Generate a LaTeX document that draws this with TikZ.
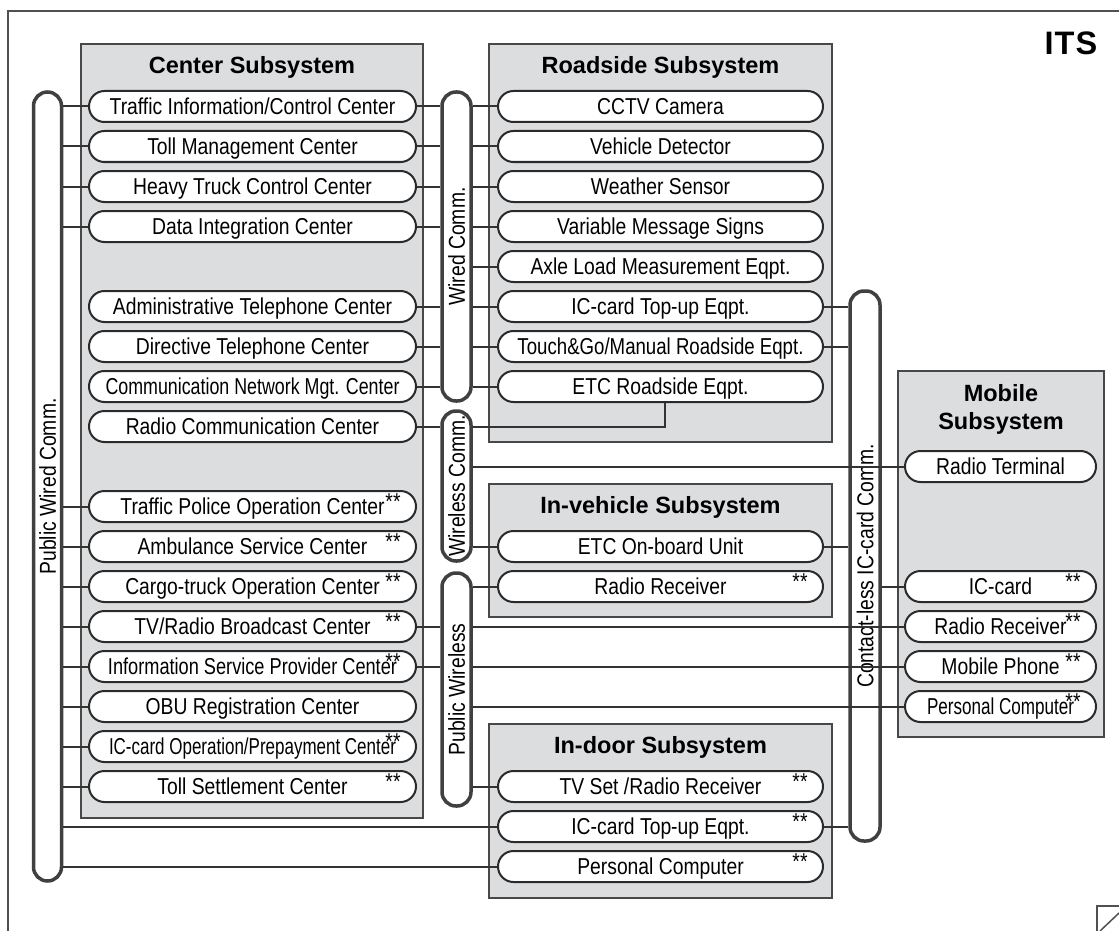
\documentclass[tikz,border=0pt]{standalone}
\usepackage{fontspec}
\usepackage{graphicx}
\setmainfont{Liberation Sans}
\newfontfamily\narrowf[FakeStretch=0.84]{Liberation Sans}

% squeeze a label horizontally when it is wider than the given width
\newsavebox\fitbox
\newcommand\fitto[2]{\sbox\fitbox{#2}\ifdim\wd\fitbox>#1\relax\resizebox{#1}{\height}{\usebox\fitbox}\else\usebox\fitbox\fi}

\definecolor{boxfill}{HTML}{DCDDDF}
\definecolor{boxc}{HTML}{484848}
\definecolor{pillc}{HTML}{2A2A2A}
\definecolor{busc}{HTML}{404040}
\definecolor{wirec}{HTML}{333333}
\definecolor{framec}{HTML}{505050}

\tikzset{
  subbox/.style={draw=boxc, line width=2pt, fill=boxfill, inner sep=0pt},
  ttl/.style={font=\bfseries\fontsize{23.5}{28}\selectfont, inner sep=0pt, text height=16.8pt, text depth=0pt},
  pill/.style={draw=pillc, line width=2pt, fill=white, rounded corners=15.5pt, minimum height=31pt,
               inner sep=0pt, text height=16.6pt, text depth=0pt, font=\narrowf\fontsize{23}{27}\selectfont},
  cpill/.style={pill, minimum width=327pt},
  rpill/.style={pill, minimum width=325pt},
  mpill/.style={pill, minimum width=191pt},
  bus/.style={draw=busc, line width=3.5pt, fill=white, rounded corners=14pt, minimum width=28pt,
              inner sep=0pt, font=\narrowf\fontsize{23}{27}\selectfont},
  wire/.style={draw=wirec, line width=2pt},
  astk/.style={font=\narrowf\fontsize{23}{27}\selectfont, inner sep=0pt, anchor=base},
}

% the "**" mark near the right end of an element
\newcommand\starmark[1]{\node[astk] (#1s) at ([xshift=-24pt,yshift=-3pt]#1.east) {**};}
\newcommand\vlabel[1]{\rotatebox{90}{\raisebox{0pt}[16.6pt][0pt]{#1}}}

\begin{document}
\begin{tikzpicture}[x=1pt,y=-1pt]
\useasboundingbox (0,0) rectangle (1119,931);

% outer frame and corner fragment
\draw[framec, line width=1.5pt] (8,931) -- (8,11) -- (1119,11);
\draw[framec, line width=1.5pt] (1097,931) -- (1097,906) -- (1119,906);
\draw[framec, line width=1.5pt] (1100,931) -- (1119,913);

\node[font=\bfseries\fontsize{32.5}{36}\selectfont, inner sep=0pt, text height=23.3pt, text depth=0pt]
  (its) at (1071,43.3) {I\kern1pt T\kern1pt S};

% subsystem boxes
\node[subbox, minimum width=342pt, minimum height=774pt] (csub) at (252,431) {};
\node[subbox, minimum width=343pt, minimum height=398pt] (rsub) at (660.5,243) {};
\node[subbox, minimum width=343pt, minimum height=133pt] (vsub) at (660.5,550.5) {};
\node[subbox, minimum width=343pt, minimum height=174pt] (dsub) at (660.5,811) {};
\node[subbox, minimum width=206pt, minimum height=366pt] (msub) at (1001,554) {};

\node[ttl] (csubt) at (252,65) {Center Subsystem};
\node[ttl] (rsubt) at (660.5,65) {Roadside Subsystem};
\node[ttl] (vsubt) at (660.5,505) {In-vehicle Subsystem};
\node[ttl] (dsubt) at (660.5,745) {In-door Subsystem};
\node[ttl] (msubt1) at (1001,393) {Mobile};
\node[ttl] (msubt2) at (1001,421) {Subsystem};

% center subsystem
\node[cpill] (c0)  at (252.5,106.5) {\fitto{290pt}{Traffic Information/Control Center}};
\node[cpill] (c1)  at (252.5,146.5) {\fitto{290pt}{Toll Management Center}};
\node[cpill] (c2)  at (252.5,186.5) {\fitto{290pt}{Heavy Truck Control Center}};
\node[cpill] (c3)  at (252.5,226.5) {\fitto{290pt}{Data Integration Center}};
\node[cpill] (c5)  at (252.5,306.5) {\fitto{290pt}{Administrative Telephone Center}};
\node[cpill] (c6)  at (252.5,346.5) {\fitto{290pt}{Directive Telephone Center}};
\node[cpill] (c7)  at (252.5,386.5) {\fitto{294pt}{Communication Network Mgt. Center}};
\node[cpill] (c8)  at (252.5,426.5) {\fitto{290pt}{Radio Communication Center}};
\node[cpill] (c10) at (252.5,506.5) {\fitto{290pt}{Traffic Police Operation Center}};
\node[cpill] (c11) at (252.5,546.5) {\fitto{290pt}{Ambulance Service Center}};
\node[cpill] (c12) at (252.5,586.5) {\fitto{290pt}{Cargo-truck Operation Center}};
\node[cpill] (c13) at (252.5,626.5) {\fitto{290pt}{TV/Radio Broadcast Center}};
\node[cpill] (c14) at (252.5,666.5) {\fitto{289pt}{Information Service Provider Center}};
\node[cpill] (c15) at (252.5,706.5) {\fitto{290pt}{OBU Registration Center}};
\node[cpill] (c16) at (252.5,746.5) {\fitto{287pt}{IC-card Operation/Prepayment Center}};
\node[cpill] (c17) at (252.5,786.5) {\fitto{290pt}{Toll Settlement Center}};
\starmark{c10}\starmark{c11}\starmark{c12}\starmark{c13}\starmark{c14}\starmark{c16}\starmark{c17}

% roadside subsystem
\node[rpill] (r0) at (660.5,106.5) {\fitto{290pt}{CCTV Camera}};
\node[rpill] (r1) at (660.5,146.5) {\fitto{290pt}{Vehicle Detector}};
\node[rpill] (r2) at (660.5,186.5) {\fitto{290pt}{Weather Sensor}};
\node[rpill] (r3) at (660.5,226.5) {\fitto{290pt}{Variable Message Signs}};
\node[rpill] (r4) at (660.5,266.5) {\fitto{290pt}{Axle Load Measurement Eqpt.}};
\node[rpill] (r5) at (660.5,306.5) {\fitto{290pt}{IC-card Top-up Eqpt.}};
\node[rpill] (r6) at (660.5,346.5) {\fitto{286pt}{Touch\&Go/Manual Roadside Eqpt.}};
\node[rpill] (r7) at (660.5,386.5) {\fitto{290pt}{ETC Roadside Eqpt.}};

% in-vehicle subsystem
\node[rpill] (v1) at (660.5,546.5) {ETC On-board Unit};
\node[rpill] (v2) at (660.5,586.5) {Radio Receiver};
\starmark{v2}

% in-door subsystem
\node[rpill] (d1) at (660.5,786.5) {TV Set /Radio Receiver};
\node[rpill] (d2) at (660.5,826.5) {IC-card Top-up Eqpt.};
\node[rpill] (d3) at (660.5,866.5) {Personal Computer};
\starmark{d1}\starmark{d2}\starmark{d3}

% mobile subsystem
\node[mpill] (m1) at (1000.5,466.5) {\fitto{180pt}{Radio Terminal}};
\node[mpill] (m2) at (1000.5,586.5) {\fitto{180pt}{IC-card}};
\node[mpill] (m3) at (1000.5,626.5) {\fitto{180pt}{Radio Receiver}};
\node[mpill] (m4) at (1000.5,666.5) {\fitto{180pt}{Mobile Phone}};
\node[mpill] (m5) at (1000.5,706.5) {\fitto{147pt}{Personal Computer}};
\starmark{m2}\starmark{m3}\starmark{m4}\starmark{m5}

% communication media
\node[bus, minimum height=789pt] (pwc) at (47.5,486.5) {\vlabel{Public Wired Comm.}};
\node[bus, minimum width=29pt, minimum height=309pt] (wc) at (456.5,246.5) {\vlabel{Wired Comm.}};
\node[bus, minimum width=29pt, minimum height=150pt] (wl) at (456.5,486) {\vlabel{Wireless Comm.}};
\node[bus, minimum width=29pt, minimum height=233pt] (pwl) at (456.5,689.5) {\vlabel{Public Wireless}};
\node[bus, minimum width=30pt, minimum height=550pt] (cl) at (865,566) {\vlabel{Contact-less IC-card Comm.}};

% public wired links
\foreach \n in {c0,c1,c2,c3,c10,c11,c12,c13,c14,c15,c16,c17,d2,d3}
  \draw[wire] (pwc.east |- \n.west) -- (\n.west);

% wired links
\foreach \n in {c0,c1,c2,c3,c5,c6,c7}
  \draw[wire] (\n.east) -- (wc.west |- \n.east);
\foreach \n in {r0,r1,r2,r3,r4,r5,r6,r7}
  \draw[wire] (wc.east |- \n.west) -- (\n.west);

% wireless links
\draw[wire] (c8.east) -- (wl.west |- c8.east);
\draw[wire] (wl.east |- c8.east) -| ([xshift=4.5pt]r7.south);
\draw[wire] (wl.east |- v1.west) -- (v1.west);
\draw[wire] (wl.east |- m1.west) -- (m1.west);

% public wireless links
\foreach \n in {c13,c14}
  \draw[wire] (\n.east) -- (pwl.west |- \n.east);
\foreach \n in {v2,d1,m3,m4,m5}
  \draw[wire] (pwl.east |- \n.west) -- (\n.west);

% contact-less IC-card links
\foreach \n in {r5,r6,v1,d2}
  \draw[wire] (\n.east) -- (cl.west |- \n.east);
\draw[wire] (cl.east |- m2.west) -- (m2.west);

\end{tikzpicture}
\end{document}
